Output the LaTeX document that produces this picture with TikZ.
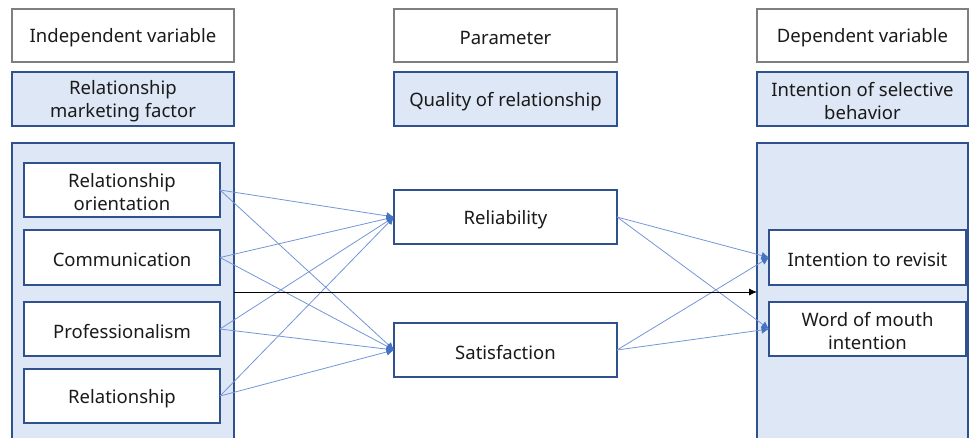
\documentclass[tikz,border=0pt]{standalone}
\usepackage{fontspec}
\setmainfont{Noto Sans}
\usetikzlibrary{arrows.meta}
\definecolor{boxgray}{HTML}{7F7F7F}
\definecolor{boxblue}{HTML}{2F528F}
\definecolor{boxfill}{HTML}{DDE7F5}
\definecolor{linkblue}{HTML}{7396D8}
\definecolor{tipblue}{HTML}{4472C4}
\definecolor{txt}{HTML}{1A1A1A}
\tikzset{
  base/.style={draw, inner sep=0pt, outer sep=0pt},
  % box caption, set slightly below the geometric centre
  caption/.style={label={[align=center, text=txt, inner sep=0pt,
    font=\fontsize{18.5}{23}\selectfont, yshift=-2.5pt]center:#1}},
  headbox/.style={base, draw=boxgray, line width=1.3pt, fill=white},
  groupbox/.style={base, draw=boxblue, line width=1.3pt, fill=boxfill},
  itembox/.style={base, draw=boxblue, line width=1.3pt, fill=white},
  link/.style={draw=linkblue, line width=0.8pt,
    -{Latex[length=7.5pt,width=7.5pt,fill=tipblue,color=tipblue]}},
  direct/.style={draw=black, line width=0.8pt, -{Latex[length=8pt,width=7pt]}}
}
\begin{document}
\begin{tikzpicture}[x=1pt,y=-1pt]
  \useasboundingbox (0,0) rectangle (971,437);

  % column headings
  \node[headbox, minimum width=222pt, minimum height=53pt, caption={Independent variable}] (h1) at (123,35.5) {};
  \node[headbox, minimum width=223pt, minimum height=53pt, caption={Parameter}] (h2) at (505.5,35.5) {};
  \node[headbox, minimum width=211pt, minimum height=53pt, caption={Dependent variable}] (h3) at (862.5,35.5) {};

  % group titles
  \node[groupbox, minimum width=222pt, minimum height=54pt, caption={Relationship\\marketing factor}] (g1) at (123,99) {};
  \node[groupbox, minimum width=223pt, minimum height=54pt, caption={Quality of relationship}] (g2) at (505.5,99) {};
  \node[groupbox, minimum width=211pt, minimum height=54pt, caption={Intention of selective\\behavior}] (g3) at (862.5,99) {};

  % group containers
  \node[groupbox, minimum width=222pt, minimum height=304pt] (lc) at (123,295) {};
  \node[groupbox, minimum width=211pt, minimum height=304pt] (rc) at (862.5,295) {};

  % independent variables
  \node[itembox, minimum width=196pt, minimum height=54pt, caption={Relationship\\orientation}] (a1) at (122,190) {};
  \node[itembox, minimum width=196pt, minimum height=55pt, caption={Communication}] (a2) at (122,257.5) {};
  \node[itembox, minimum width=196pt, minimum height=54pt, caption={Professionalism}] (a3) at (122,329) {};
  \node[itembox, minimum width=196pt, minimum height=54pt, caption={Relationship}] (a4) at (122,396) {};

  % parameters
  \node[itembox, minimum width=223pt, minimum height=54pt, caption={Reliability}] (m1) at (505.5,217) {};
  \node[itembox, minimum width=223pt, minimum height=54pt, caption={Satisfaction}] (m2) at (505.5,350) {};

  % dependent variables
  \node[itembox, minimum width=197pt, minimum height=55pt, caption={Intention to revisit}] (r1) at (867.5,257.5) {};
  \node[itembox, minimum width=197pt, minimum height=54pt, caption={Word of mouth\\intention}] (r2) at (867.5,329) {};

  % paths from factors to relationship quality
  \foreach \s in {a1,a2,a3,a4}{
    \draw[link] (\s.east) -- (m1.west);
    \draw[link] (\s.east) -- (m2.west);
  }
  % paths from relationship quality to intentions
  \foreach \s in {m1,m2}{
    \draw[link] (\s.east) -- (r1.west);
    \draw[link] (\s.east) -- (r2.west);
  }

  % direct effect
  \coordinate (dy) at (0,292);
  \draw[direct] (lc.east |- dy) -- (rc.west |- dy);
\end{tikzpicture}
\end{document}
